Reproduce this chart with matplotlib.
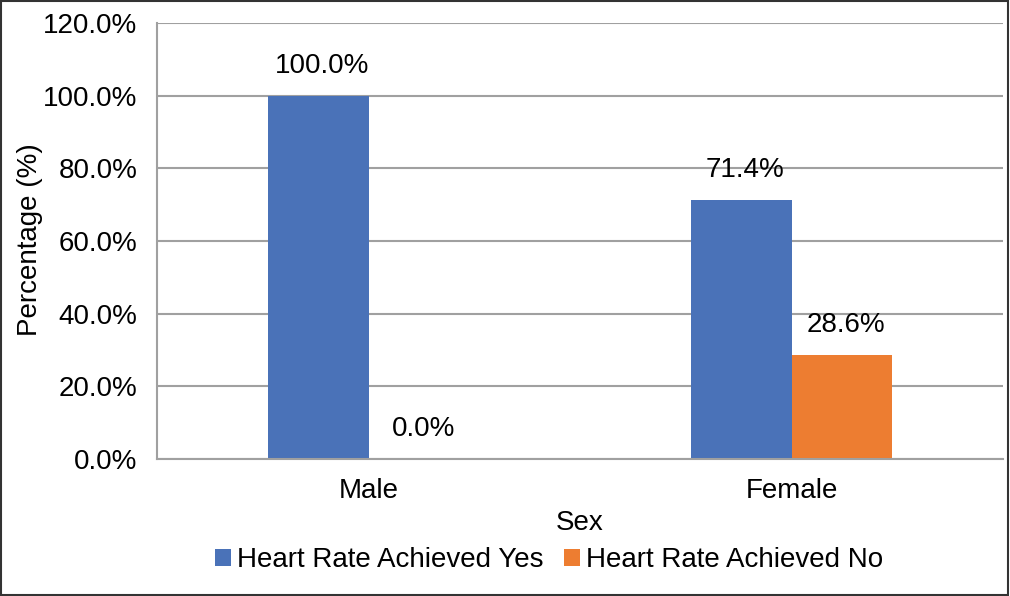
import matplotlib.pyplot as plt
import numpy as np
from matplotlib.patches import Rectangle

categories = ["Male", "Female"]
yes_vals = [100.0, 71.4]
no_vals = [0.0, 28.6]
series_names = ["Heart Rate Achieved Yes", "Heart Rate Achieved No"]
yticks = [0, 20, 40, 60, 80, 100, 120]

plt.rcParams['font.family'] = ['Liberation Sans', 'DejaVu Sans']
fs = 20

fig = plt.figure(figsize=(10.10, 5.96), dpi=100)
ax = fig.add_axes([157/1010, 1-459/596, (1003-157)/1010, (459-23)/596])

x = np.arange(len(categories))
w = 0.238
b1 = ax.bar(x - w/2, yes_vals, w, color='#4A72B8', label=series_names[0])
b2 = ax.bar(x + w/2, no_vals, w, color='#ED7D31', label=series_names[1])

for bars, vals in [(b1, yes_vals), (b2, no_vals)]:
    for r, v in zip(bars, vals):
        ax.annotate("%.1f%%" % v, (r.get_x() + r.get_width()/2 + 0.01, v),
                    xytext=(0, 12), textcoords='offset points',
                    ha='center', va='bottom', fontsize=fs)

ax.set_xlim(-0.5, 1.5)
ax.set_ylim(0, 120)
ax.set_yticks(yticks)
ax.set_yticklabels(["%.1f%%" % t for t in yticks])
ax.set_xticks(x)
ax.set_xticklabels(categories)
ax.tick_params(axis='both', length=0, labelsize=fs)
ax.tick_params(axis='y', pad=14)
ax.tick_params(axis='x', pad=14)
ax.grid(axis='y', color='#A0A0A0', lw=1.5)
ax.set_axisbelow(True)
for s in ['top', 'right']:
    ax.spines[s].set_visible(False)
ax.spines['left'].set_color('#A0A0A0')
ax.spines['left'].set_linewidth(1.5)
ax.spines['bottom'].set_color('#A0A0A0')
ax.spines['bottom'].set_linewidth(1.5)

fig.text(580/1010, 1-523/596, "Sex", ha='center', va='center', fontsize=fs)
fig.text(30/1010, 1-240/596, "Percentage (%)", ha='center', va='center',
         rotation=90, fontsize=fs)

fig.legend(handles=[b1, b2], loc='center', bbox_to_anchor=(549/1010, 1-560/596),
           ncol=2, frameon=False, fontsize=fs, handlelength=0.58, handleheight=0.58,
           handletextpad=0.22, columnspacing=0.75)

fig.patches.append(Rectangle((0.001, 0.002), 0.997, 0.996, transform=fig.transFigure,
                             fill=False, edgecolor='#333333', lw=1.5))

plt.savefig('out.png', dpi=100)
